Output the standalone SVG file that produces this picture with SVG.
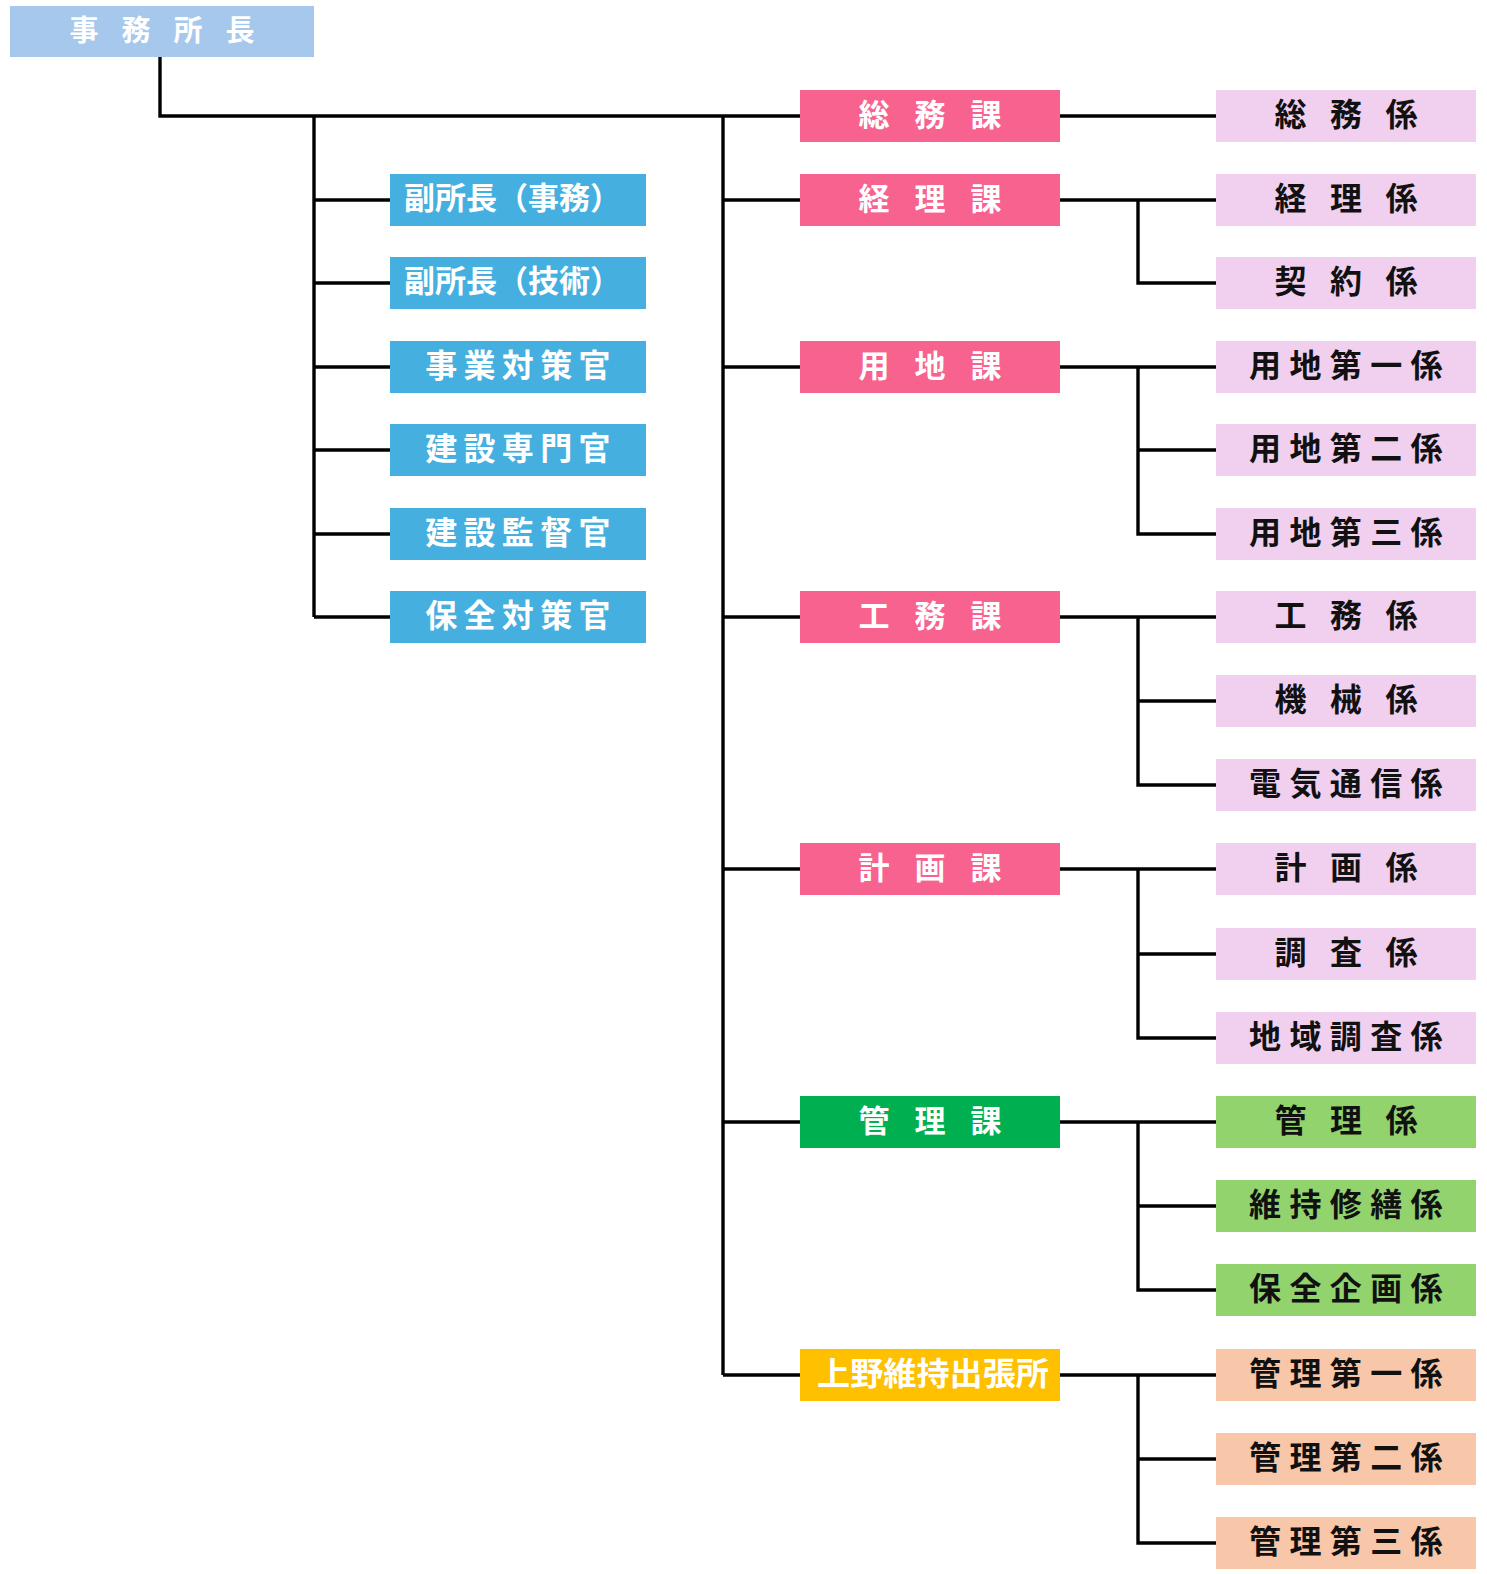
<svg xmlns="http://www.w3.org/2000/svg" width="1487" height="1574" viewBox="0 0 1487 1574">
<style>
text{font-family:"Noto Sans CJK JP","Noto Sans CJK SC",sans-serif;font-weight:bold}
.w{fill:#ffffff}
.k{fill:#111111}
.top{fill:#a6c8ec}
.blue{fill:#45b0e0}
.pink{fill:#f7628f}
.lpink{fill:#f0d0ee}
.dgreen{fill:#00b050}
.lgreen{fill:#92d36e}
.yellow{fill:#ffc000}
.salmon{fill:#f8c6a8}
.c{fill:none;stroke:#000;stroke-width:3.4;stroke-linejoin:miter}
.t3{font-size:32px;letter-spacing:23.5px;text-anchor:middle}
.t5{font-size:32px;letter-spacing:8.4px;text-anchor:middle}
.p3{font-size:31px;letter-spacing:25px;text-anchor:middle}
.b5{font-size:32px;letter-spacing:6.3px;text-anchor:middle}
</style>
<rect width="1487" height="1574" fill="#ffffff"/>
<g id="connectors">
<path class="c" d="M160 57 V116 H800"/>
<path class="c" d="M314 116 V617"/>
<path class="c" d="M314 200 H390 M314 283 H390 M314 367 H390 M314 450 H390 M314 534 H390 M314 617 H390"/>
<path class="c" d="M723 116 V1375"/>
<path class="c" d="M723 200 H800 M723 367 H800 M723 617 H800 M723 869 H800 M723 1122 H800 M723 1375 H800"/>
<path class="c" d="M1060 116 H1216"/>
<path class="c" d="M1060 200 H1216 M1138 200 V283 H1216"/>
<path class="c" d="M1060 367 H1216 M1138 367 V534 H1216 M1138 450 H1216"/>
<path class="c" d="M1060 617 H1216 M1138 617 V785 H1216 M1138 701 H1216"/>
<path class="c" d="M1060 869 H1216 M1138 869 V1038 H1216 M1138 954 H1216"/>
<path class="c" d="M1060 1122 H1216 M1138 1122 V1290 H1216 M1138 1206 H1216"/>
<path class="c" d="M1060 1375 H1216 M1138 1375 V1543 H1216 M1138 1459 H1216"/>
</g>
<g id="n-director"><rect class="top" x="10" y="6" width="304" height="51"/><text class="w" x="173.5" y="41" style="font-size:29px;letter-spacing:23px;text-anchor:middle">事務所長</text></g>

<g id="n-deputy1"><rect class="blue" x="390" y="174" width="256" height="52"/><text class="w" x="404" y="209" style="font-size:31px">副所長（事務）</text></g>
<g id="n-deputy2"><rect class="blue" x="390" y="257" width="256" height="52"/><text class="w" x="404" y="292" style="font-size:31px">副所長（技術）</text></g>
<g id="n-jigyo"><rect class="blue" x="390" y="341" width="256" height="52"/><text class="w b5" x="521" y="377">事業対策官</text></g>
<g id="n-kensetsu-senmon"><rect class="blue" x="390" y="424" width="256" height="52"/><text class="w b5" x="521" y="460">建設専門官</text></g>
<g id="n-kensetsu-kantoku"><rect class="blue" x="390" y="508" width="256" height="52"/><text class="w b5" x="521" y="544">建設監督官</text></g>
<g id="n-hozen"><rect class="blue" x="390" y="591" width="256" height="52"/><text class="w b5" x="521" y="627">保全対策官</text></g>

<g id="n-somuka"><rect class="pink" x="800" y="90" width="260" height="52"/><text class="w p3" x="942.5" y="125.5">総務課</text></g>
<g id="n-keirika"><rect class="pink" x="800" y="174" width="260" height="52"/><text class="w p3" x="942.5" y="209.5">経理課</text></g>
<g id="n-yochika"><rect class="pink" x="800" y="341" width="260" height="52"/><text class="w p3" x="942.5" y="376.5">用地課</text></g>
<g id="n-komuka"><rect class="pink" x="800" y="591" width="260" height="52"/><text class="w p3" x="942.5" y="626.5">工務課</text></g>
<g id="n-keikakuka"><rect class="pink" x="800" y="843" width="260" height="52"/><text class="w p3" x="942.5" y="878.5">計画課</text></g>
<g id="n-kanrika"><rect class="dgreen" x="800" y="1096" width="260" height="52"/><text class="w p3" x="942.5" y="1131.5">管理課</text></g>
<g id="n-ueno"><rect class="yellow" x="800" y="1349" width="260" height="52"/><text class="w" x="817" y="1385" style="font-size:32px" textLength="232" lengthAdjust="spacingAndGlyphs">上野維持出張所</text></g>

<g id="n-somugakari"><rect class="lpink" x="1216" y="90" width="260" height="52"/><text class="k t3" x="1357.7" y="126">総務係</text></g>
<g id="n-keirigakari"><rect class="lpink" x="1216" y="174" width="260" height="52"/><text class="k t3" x="1357.7" y="210">経理係</text></g>
<g id="n-keiyaku"><rect class="lpink" x="1216" y="257" width="260" height="52"/><text class="k t3" x="1357.7" y="293">契約係</text></g>
<g id="n-yochi1"><rect class="lpink" x="1216" y="341" width="260" height="52"/><text class="k t5" x="1350" y="377">用地第一係</text></g>
<g id="n-yochi2"><rect class="lpink" x="1216" y="424" width="260" height="52"/><text class="k t5" x="1350" y="460">用地第二係</text></g>
<g id="n-yochi3"><rect class="lpink" x="1216" y="508" width="260" height="52"/><text class="k t5" x="1350" y="544">用地第三係</text></g>
<g id="n-komugakari"><rect class="lpink" x="1216" y="591" width="260" height="52"/><text class="k t3" x="1357.7" y="627">工務係</text></g>
<g id="n-kikai"><rect class="lpink" x="1216" y="675" width="260" height="52"/><text class="k t3" x="1357.7" y="711">機械係</text></g>
<g id="n-denki"><rect class="lpink" x="1216" y="759" width="260" height="52"/><text class="k t5" x="1350" y="795">電気通信係</text></g>
<g id="n-keikakugakari"><rect class="lpink" x="1216" y="843" width="260" height="52"/><text class="k t3" x="1357.7" y="879">計画係</text></g>
<g id="n-chosa"><rect class="lpink" x="1216" y="928" width="260" height="52"/><text class="k t3" x="1357.7" y="964">調査係</text></g>
<g id="n-chiiki"><rect class="lpink" x="1216" y="1012" width="260" height="52"/><text class="k t5" x="1350" y="1048">地域調査係</text></g>
<g id="n-kanrigakari"><rect class="lgreen" x="1216" y="1096" width="260" height="52"/><text class="k t3" x="1357.7" y="1132">管理係</text></g>
<g id="n-iji"><rect class="lgreen" x="1216" y="1180" width="260" height="52"/><text class="k t5" x="1350" y="1216">維持修繕係</text></g>
<g id="n-hozenkikaku"><rect class="lgreen" x="1216" y="1264" width="260" height="52"/><text class="k t5" x="1350" y="1300">保全企画係</text></g>
<g id="n-kanri1"><rect class="salmon" x="1216" y="1349" width="260" height="52"/><text class="k t5" x="1350" y="1385">管理第一係</text></g>
<g id="n-kanri2"><rect class="salmon" x="1216" y="1433" width="260" height="52"/><text class="k t5" x="1350" y="1469">管理第二係</text></g>
<g id="n-kanri3"><rect class="salmon" x="1216" y="1517" width="260" height="52"/><text class="k t5" x="1350" y="1553">管理第三係</text></g>
</svg>
